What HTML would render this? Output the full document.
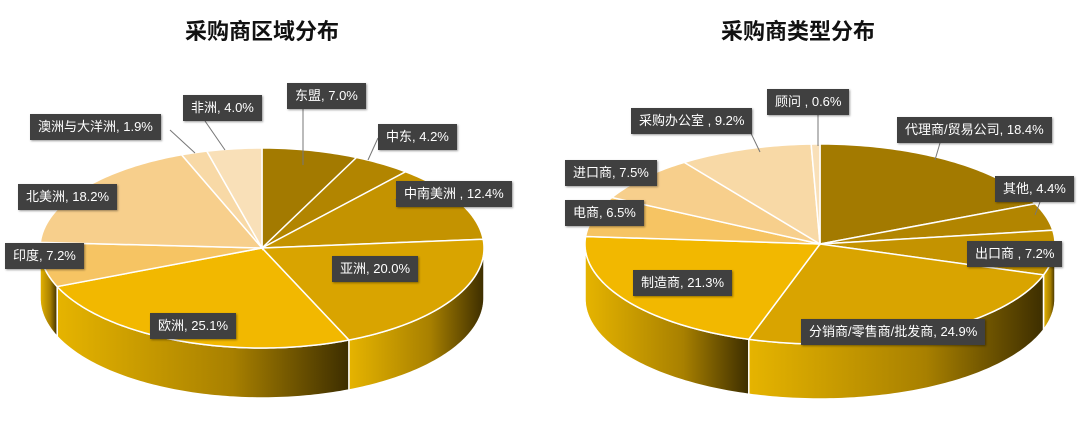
<!DOCTYPE html>
<html><head><meta charset="utf-8"><style>
body{margin:0;width:1080px;height:430px;background:#fff;overflow:hidden;font-family:"Liberation Sans","Noto Sans CJK SC",sans-serif}
.t{position:absolute;top:14px;font-size:22px;font-weight:bold;color:#111;transform:translateX(-50%);white-space:nowrap}
.l{position:absolute;background:#404040;color:#fff;font-size:13px;height:26px;line-height:26px;padding:0 8px;white-space:nowrap;box-sizing:border-box;box-shadow:1px 1px 2px rgba(0,0,0,.4)}
</style></head><body>
<svg id="s" width="1080" height="430" style="position:absolute;left:0;top:0"></svg>
<div class="t" style="left:262px">采购商区域分布</div>
<div class="t" style="left:798px">采购商类型分布</div>
<div class="l" style="left:287px;top:83px">东盟, 7.0%</div>
<div class="l" style="left:378px;top:124px">中东, 4.2%</div>
<div class="l" style="left:396px;top:181px">中南美洲 , 12.4%</div>
<div class="l" style="left:332px;top:256px">亚洲, 20.0%</div>
<div class="l" style="left:150px;top:313px">欧洲, 25.1%</div>
<div class="l" style="left:5px;top:243px">印度, 7.2%</div>
<div class="l" style="left:18px;top:184px">北美洲, 18.2%</div>
<div class="l" style="left:30px;top:114px">澳洲与大洋洲, 1.9%</div>
<div class="l" style="left:183px;top:95px">非洲, 4.0%</div>
<div class="l" style="left:767px;top:89px">顾问 , 0.6%</div>
<div class="l" style="left:631px;top:108px">采购办公室 , 9.2%</div>
<div class="l" style="left:897px;top:117px">代理商/贸易公司, 18.4%</div>
<div class="l" style="left:995px;top:176px">其他, 4.4%</div>
<div class="l" style="left:967px;top:241px">出口商 , 7.2%</div>
<div class="l" style="left:565px;top:160px">进口商, 7.5%</div>
<div class="l" style="left:565px;top:200px">电商, 6.5%</div>
<div class="l" style="left:633px;top:270px">制造商, 21.3%</div>
<div class="l" style="left:801px;top:319px">分销商/零售商/批发商, 24.9%</div>
<script>
var s=document.getElementById('s');
var h='<defs><linearGradient id="g" x1="0" y1="0" x2="1" y2="0"><stop offset="0" stop-color="#e6b400"/><stop offset="0.6" stop-color="#a88000"/><stop offset="1" stop-color="#3d2e00"/></linearGradient></defs>';
function pie(cx,cy,rx,ry,d,vals,cols,lines){
 var R=Math.PI/180,sides='',tops='',a=0,segs=[];
 vals.forEach(function(v,i){var b=a+v*3.6;segs.push([a,b,cols[i]]);a=b;});
 function P(t,dy){return [cx+rx*Math.sin(t*R),cy-ry*Math.cos(t*R)+(dy||0)];}
 segs.forEach(function(g){var s0=Math.max(g[0],90),s1=Math.min(g[1],270);if(s1>s0){
  var p='M'+P(s0);for(var t=s0;t<=s1;t+=1)p+=' L'+P(t);p+=' L'+P(s1);
  for(var t=s1;t>=s0;t-=1)p+=' L'+P(t,d);p+=' L'+P(s0,d)+'Z';
  sides+='<path d="'+p+'" fill="url(#g)" stroke="#fff" stroke-width="1.5"/>';}});
 segs.forEach(function(g){var p='M'+cx+','+cy+' L'+P(g[0]);for(var t=g[0];t<=g[1];t+=1)p+=' L'+P(t);p+=' L'+P(g[1])+'Z';
  tops+='<path d="'+p+'" fill="'+g[2]+'" stroke="#fff" stroke-width="1.5"/>';});
 var ln='';lines.forEach(function(l){ln+='<line x1="'+l[0]+'" y1="'+l[1]+'" x2="'+l[2]+'" y2="'+l[3]+'" stroke="#777" stroke-width="1"/>';});
 return sides+tops+ln;
}
h+=pie(262,248,222,100,50,[7.0,4.2,12.4,20.0,25.1,7.2,18.2,1.9,4.0],
 ['#a37a00','#b28500','#c49300','#d9a400','#f2b800','#f6c463','#f7cf8c','#f8d9a6','#f9e0b8'],
 [[303,108,303,165],[378,138,368,160],[403,195,395,200],[205,121,225,150],[170,130,195,153]]);
h+=pie(820,244,235,100,55,[18.4,4.4,7.2,24.9,21.3,6.5,7.5,9.2,0.6],
 ['#a37a00','#b28500','#c49300','#d9a400','#f2b800','#f6c463','#f7cf8c','#f8d9a6','#f9e0b8'],
 [[818,115,818,146],[747,125,760,152],[940,143,935,160],[1040,202,1035,215],[967,255,975,258]]);
s.innerHTML=h;
</script>
</body></html>
